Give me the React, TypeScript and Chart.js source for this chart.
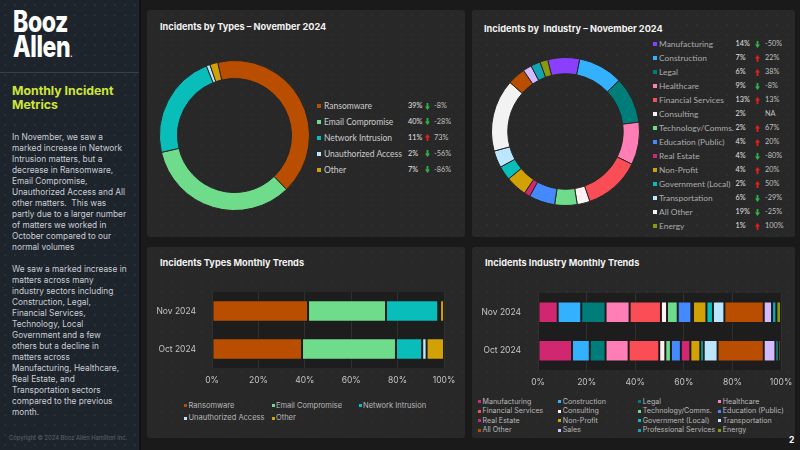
import React, { useEffect, useRef } from 'react';
import { Chart, registerables } from 'chart.js';

Chart.register(...registerables);

// ---------- DATA ----------
const TREND_LABELS = ['Nov 2024', 'Oct 2024'];

const TYPE_LABELS = ['Ransomware', 'Email Compromise', 'Network Intrusion', 'Unauthorized Access', 'Other'];
const TYPE_COLORS = ['#ba4e00', '#6fdc8c', '#08bdba', '#bae6ff', '#d2a106'];
const TYPE_NOV = [41.4, 33.6, 22.5, 0.8, 1.7];
const TYPE_OCT = [38.8, 40.5, 11.3, 1.9, 7.5];
const TYPE_SHARE = ['39%', '40%', '11%', '2%', '7%'];
const TYPE_CHANGE = ['-8%', '-28%', '73%', '-56%', '-86%'];
const TYPE_DIR = ['down', 'down', 'up', 'down', 'down'];

const IND_KEY_LABELS = ['Manufacturing', 'Construction', 'Legal', 'Healthcare', 'Financial Services', 'Consulting', 'Technology/Comms.', 'Education (Public)', 'Real Estate', 'Non-Profit', 'Government (Local)', 'Transportation', 'All Other', 'Energy'];
const IND_KEY_COLORS = ['#8a3ffc', '#33b1ff', '#007d79', '#ff7eb6', '#fa4d56', '#fff1f1', '#6fdc8c', '#4589ff', '#d12771', '#d2a106', '#08bdba', '#bae6ff', '#f4f4f4', '#8a9a10'];
const IND_SHARE = ['14%', '7%', '6%', '9%', '13%', '2%', '2%', '4%', '4%', '4%', '2%', '6%', '19%', '1%'];
const IND_CHANGE = ['-50%', '22%', '38%', '-8%', '13%', 'NA', '67%', '20%', '-80%', '20%', '50%', '-29%', '-25%', '100%'];
const IND_DIR = ['down', 'up', 'up', 'down', 'up', 'none', 'up', 'up', 'down', 'up', 'up', 'down', 'down', 'up'];

const RING_LABELS = ['Manufacturing', 'Construction', 'Legal', 'Healthcare', 'Financial Services', 'Consulting', 'Technology/Comms.', 'Education (Public)', 'Real Estate', 'Non-Profit', 'Government (Local)', 'Transportation', 'All Other', 'Other', 'Sales', 'Professional Services', 'Energy'];
const RING_VALUES = [7.0, 9.8, 10.1, 9.3, 12.4, 2.8, 4.9, 5.7, 1.3, 4.6, 3.1, 3.7, 15.8, 3.9, 1.9, 2.1, 1.7];
const RING_COLORS = ['#8a3ffc', '#33b1ff', '#007d79', '#ff7eb6', '#fa4d56', '#fff1f1', '#6fdc8c', '#4589ff', '#d12771', '#d2a106', '#08bdba', '#bae6ff', '#f2f2f2', '#ba4e00', '#d4bbff', '#12a4b4', '#8a9a10'];

const IND_SERIES = ['Manufacturing', 'Construction', 'Legal', 'Healthcare', 'Financial Services', 'Consulting', 'Technology/Comms.', 'Education (Public)', 'Real Estate', 'Non-Profit', 'Government (Local)', 'Transportation', 'All Other', 'Sales', 'Professional Services', 'Energy'];
const IND_SERIES_COLORS = ['#d12771', '#33b1ff', '#007d79', '#ff7eb6', '#fa4d56', '#fff1f1', '#6fdc8c', '#4589ff', '#d12771', '#d2a106', '#08bdba', '#bae6ff', '#ba4e00', '#d4bbff', '#12a4b4', '#8a9a10'];
const IND_NOV = [8.1, 9.7, 10.0, 9.9, 12.9, 2.5, 4.4, 5.6, 0.7, 5.5, 2.7, 4.7, 16.2, 3.4, 1.8, 1.9];
const IND_OCT = [14.0, 7.3, 6.5, 9.5, 12.6, 2.5, 2.3, 4.1, 3.9, 4.1, 1.4, 5.7, 19.0, 4.8, 1.3, 1.0];

const PARA1 = ['In November, we saw a', 'marked increase in Network', 'Intrusion matters, but a', 'decrease in Ransomware,', 'Email Compromise,', 'Unauthorized Access and All', 'other matters.  This was', 'partly due to a larger number', 'of matters we worked in', 'October compared to our', 'normal volumes'];
const PARA2 = ['We saw a marked increase in', 'matters across many', 'industry sectors including', 'Construction, Legal,', 'Financial Services,', 'Technology, Local', 'Government and a few', 'others but a decline in', 'matters across', 'Manufacturing, Healthcare,', 'Real Estate, and', 'Transportation sectors', 'compared to the previous', 'month.'];

// ---------- HELPERS ----------
const FONT = 'Inter, "Noto Sans", sans-serif';
const LEG_FONT = 'Lato, "Noto Sans", sans-serif';

const plotBg = {
  id: 'plotBg',
  beforeDraw(chart: any, _a: any, opts: any) {
    if (!opts || !opts.color) return;
    const { ctx, chartArea } = chart;
    ctx.save();
    ctx.fillStyle = opts.color;
    ctx.fillRect(chartArea.left, chartArea.top, chartArea.width, chartArea.height);
    ctx.restore();
  },
};

function ChartBox({ config, left, top, width, height }: any) {
  const ref = useRef<HTMLCanvasElement>(null);
  useEffect(() => {
    if (!ref.current) return;
    const c = new Chart(ref.current, config());
    return () => c.destroy();
  }, []);
  return (
    <canvas
      ref={ref}
      width={width}
      height={height}
      style={{ position: 'absolute', left, top, width, height }}
    />
  );
}

function doughnutConfig(labels: string[], values: number[], colors: string[], cutout: string, rotation: number) {
  return () => ({
    type: 'doughnut',
    data: {
      labels,
      datasets: [{ data: values, backgroundColor: colors, borderColor: '#262626', borderWidth: 1 }],
    },
    options: {
      animation: false,
      responsive: false,
      maintainAspectRatio: false,
      rotation,
      cutout,
      layout: { padding: 0 },
      plugins: { legend: { display: false }, tooltip: { enabled: false } },
    },
  });
}

const zeroPad = (s: any) => {
  s.paddingTop = 0;
  s.paddingBottom = 0;
  s.paddingLeft = 0;
  s.paddingRight = 0;
};

function barConfig(series: string[], colors: string[], nov: number[], oct: number[], yWidth: number, yPad: number) {
  return () => ({
    type: 'bar',
    data: {
      labels: TREND_LABELS,
      datasets: series.map((s, i) => ({
        label: s,
        data: [nov[i], oct[i]],
        backgroundColor: colors[i],
        borderColor: '#1d1d1d',
        borderWidth: 1,
        borderSkipped: false,
        categoryPercentage: 1,
        barPercentage: 0.56,
      })),
    },
    options: {
      indexAxis: 'y',
      animation: false,
      responsive: false,
      maintainAspectRatio: false,
      layout: { padding: { top: 4, right: 11, left: 0, bottom: 0 } },
      plugins: { legend: { display: false }, tooltip: { enabled: false }, plotBg: { color: '#1d1d1d' } },
      scales: {
        x: {
          stacked: true,
          min: 0,
          max: 100,
          ticks: { stepSize: 20, callback: (v: any) => v + '%', color: '#c4c4c4', font: { family: FONT, size: 8.5 }, padding: 7, maxRotation: 0 },
          grid: { color: '#303030', drawTicks: false },
          border: { display: false },
          afterFit: (s: any) => { s.height = 20; zeroPad(s); },
        },
        y: {
          stacked: true,
          ticks: { color: '#c4c4c4', font: { family: FONT, size: 8.5 }, padding: yPad },
          grid: { display: false },
          border: { display: false },
          afterFit: (s: any) => { s.width = yWidth; zeroPad(s); },
        },
      },
    },
    plugins: [plotBg],
  });
}

function Arrow({ dir }: { dir: string }) {
  if (dir === 'none') return null;
  const pts = dir === 'down'
    ? '1.6,0 3.4,0 3.4,3.6 5,3.6 2.5,7 0,3.6 1.6,3.6'
    : '2.5,0 5,3.4 3.4,3.4 3.4,7 1.6,7 1.6,3.4 0,3.4';
  return (
    <svg width="5" height="7" viewBox="0 0 5 7" style={{ display: 'block' }}>
      <polygon points={pts} fill={dir === 'down' ? '#2fb344' : '#e3201b'} />
    </svg>
  );
}

const abs = (o: any) => ({ position: 'absolute' as const, ...o });

function Panel({ left, top, width, height }: any) {
  return (
    <div
      style={abs({
        left, top, width, height,
        background: '#282828',
        borderRadius: 3,
        backgroundImage: 'radial-gradient(circle, rgba(255,255,255,0.025) 0.7px, transparent 1px)',
        backgroundSize: '10px 10px',
      })}
    />
  );
}

function Title({ left, cy, text }: any) {
  return (
    <div style={abs({ left, top: cy - 7, height: 14, lineHeight: '14px', fontSize: 9.2, fontWeight: 700, color: '#f2f2f2', whiteSpace: 'pre', fontFamily: FONT })}>
      {text}
    </div>
  );
}

function KeyRow({ cy, mx, tx, px, ax, cx, color, label, share, change, dir, fs, lc }: any) {
  return (
    <>
      <div style={abs({ left: mx, top: cy - 2, width: 4, height: 4, background: color })} />
      <div style={abs({ left: tx, top: cy - 6, lineHeight: '12px', fontSize: fs, color: lc, whiteSpace: 'pre', fontFamily: LEG_FONT })}>{label}</div>
      <div style={abs({ left: px, top: cy - 6, lineHeight: '12px', fontSize: 7.3, color: '#e0e0e0', whiteSpace: 'pre', fontFamily: LEG_FONT })}>{share}</div>
      <div style={abs({ left: ax, top: cy - 3.5 })}><Arrow dir={dir} /></div>
      <div style={abs({ left: cx, top: cy - 6, lineHeight: '12px', fontSize: 7.3, color: '#c0c0c0', whiteSpace: 'pre', fontFamily: LEG_FONT })}>{change}</div>
    </>
  );
}

function SmallKey({ cy, mx, color, label, fs }: any) {
  return (
    <>
      <div style={abs({ left: mx, top: cy - 1.5, width: 3, height: 3, background: color })} />
      <div style={abs({ left: mx + 4.5, top: cy - 5, lineHeight: '10px', fontSize: fs, color: '#b8b8b8', whiteSpace: 'pre', fontFamily: FONT })}>{label}</div>
    </>
  );
}

export default function App() {
  useEffect(() => {
    document.body.style.margin = '0';
  }, []);

  const typeBarLegend = [
    { x: 184, y: 405.7 }, { x: 271.5, y: 405.7 }, { x: 358.5, y: 405.7 },
    { x: 184, y: 418.3 }, { x: 271.5, y: 418.3 },
  ];
  const indCols = [478, 558.3, 638.3, 718.3];
  const indRows = [401.7, 411.2, 420.7, 430.2];

  return (
    <div style={abs({ left: 0, top: 0, width: 800, height: 450, overflow: 'hidden', background: '#1a1a1a', fontFamily: FONT })}>
      {/* Sidebar */}
      <div
        style={abs({
          left: 0, top: 0, width: 139, height: 450,
          background: '#1e242c',
          backgroundImage: 'radial-gradient(circle, rgba(255,255,255,0.05) 0.7px, transparent 1.1px)',
          backgroundSize: '10px 10px',
        })}
      />
      <div style={abs({ left: 139, top: 0, width: 2, height: 450, background: '#121212' })} />
      <div style={abs({ left: 13, top: 9, fontSize: 29.5, lineHeight: '24.5px', fontWeight: 800, color: '#ffffff', transform: 'scaleX(0.78)', transformOrigin: 'left top', letterSpacing: -0.5 })}>
        Booz<br />Allen<span style={{ fontSize: 8 }}>.</span>
      </div>
      <div style={abs({ left: 0, top: 72, width: 139, height: 1, background: '#3a4048' })} />
      <div style={abs({ left: 12, top: 83.5, fontSize: 12.3, lineHeight: '14.5px', fontWeight: 700, color: '#cfe53c' })}>
        Monthly Incident<br />Metrics
      </div>
      <div style={abs({ left: 12, top: 131.8, fontSize: 8.3, lineHeight: '11px', color: '#c9cdd3', whiteSpace: 'pre' })}>
        {PARA1.map((l, i) => <div key={i}>{l}</div>)}
        <div style={{ height: 11 }} />
        {PARA2.map((l, i) => <div key={i}>{l}</div>)}
      </div>
      <div style={abs({ left: 9, top: 434, fontSize: 5.8, lineHeight: '8px', color: '#5f656d', whiteSpace: 'pre' })}>
        Copyright © 2024 Booz Allen Hamilton Inc.
      </div>

      {/* Panels */}
      <Panel left={147} top={10} width={318} height={227} />
      <Panel left={472} top={10} width={323} height={227} />
      <Panel left={147} top={247} width={318} height={191} />
      <Panel left={472} top={247} width={323} height={191} />

      <Title left={160} cy={26.5} text="Incidents by Types – November 2024" />
      <Title left={484} cy={29} text="Incidents by  Industry – November 2024" />
      <Title left={160} cy={262.7} text="Incidents Types Monthly Trends" />
      <Title left={485} cy={262.7} text="Incidents Industry Monthly Trends" />

      {/* Doughnuts */}
      <ChartBox config={doughnutConfig(TYPE_LABELS, TYPE_NOV, TYPE_COLORS, '76%', -13)} left={159} top={60} width={151} height={151} />
      <ChartBox config={doughnutConfig(RING_LABELS, RING_VALUES, RING_COLORS, '78%', -14)} left={491} top={56.5} width={149} height={149} />

      {TYPE_LABELS.map((l, i) => (
        <KeyRow key={l} cy={106 + 15.9 * i} mx={317} tx={324} px={408} ax={425} cx={434}
          color={TYPE_COLORS[i]} label={l} share={TYPE_SHARE[i]} change={TYPE_CHANGE[i]} dir={TYPE_DIR[i]} fs={8.5} lc="#cccccc" />
      ))}
      {IND_KEY_LABELS.map((l, i) => (
        <KeyRow key={l} cy={44 + 14 * i} mx={653} tx={659} px={735.5} ax={755} cx={765}
          color={IND_KEY_COLORS[i]} label={l} share={IND_SHARE[i]} change={IND_CHANGE[i]} dir={IND_DIR[i]} fs={8.4} lc="#ababab" />
      ))}

      {/* Bar charts */}
      <ChartBox config={barConfig(TYPE_LABELS, TYPE_COLORS, TYPE_NOV, TYPE_OCT, 62, 8)} left={150} top={288} width={305} height={100} />
      <ChartBox config={barConfig(IND_SERIES, IND_SERIES_COLORS, IND_NOV, IND_OCT, 66, 9)} left={472} top={289} width={320} height={101} />

      {TYPE_LABELS.map((l, i) => (
        <SmallKey key={l} cy={typeBarLegend[i].y} mx={typeBarLegend[i].x} color={TYPE_COLORS[i]} label={l} fs={7.5} />
      ))}
      {IND_SERIES.map((l, i) => (
        <SmallKey key={l} cy={indRows[Math.floor(i / 4)]} mx={indCols[i % 4]} color={IND_SERIES_COLORS[i]} label={l} fs={7.1} />
      ))}

      <div style={abs({ left: 789, top: 434, fontSize: 8.5, lineHeight: '12px', fontWeight: 700, color: '#ffffff' })}>2</div>
    </div>
  );
}
